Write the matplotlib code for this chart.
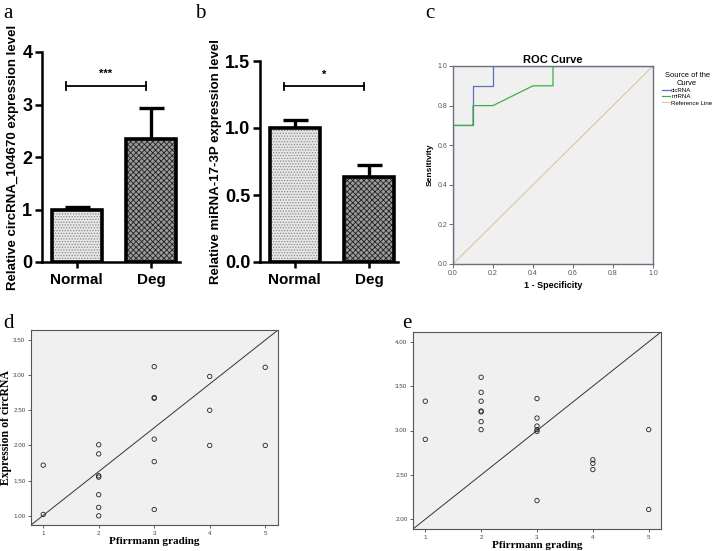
import matplotlib
matplotlib.use("Agg")
import matplotlib.pyplot as plt

W, H = 714, 551

# panel a / b data
groups = ["Normal", "Deg"]
circ_mean = [1.0, 2.34]
circ_err = [0.05, 0.59]
mir_mean = [1.0, 0.635]
mir_err = [0.06, 0.09]

# panel c data (ROC steps)
circ_fpr = [0.0, 0.0, 0.1, 0.1, 0.2, 0.2, 1.0]
circ_tpr = [0.0, 0.7, 0.7, 0.9, 0.9, 1.0, 1.0]
mir_fpr = [0.0, 0.0, 0.1, 0.1, 0.2, 0.4, 0.5, 0.5, 1.0]
mir_tpr = [0.0, 0.7, 0.7, 0.8, 0.8, 0.9, 0.9, 1.0, 1.0]

# panel d data
d_grade = [1, 1, 2, 2, 2, 2, 2, 2, 2, 3, 3, 3, 3, 3, 3, 4, 4, 4, 5, 5]
d_expr = [1.72, 1.02, 2.01, 1.88, 1.57, 1.55, 1.30, 1.12, 1.00,
          3.12, 2.68, 2.67, 2.09, 1.77, 1.09, 2.98, 2.50, 2.00, 3.11, 2.00]

# panel e data
e_grade = [1, 1, 2, 2, 2, 2, 2, 2, 2, 3, 3, 3, 3, 3, 3, 4, 4, 4, 5, 5]
e_expr = [3.33, 2.90, 3.60, 3.43, 3.33, 3.22, 3.21, 3.10, 3.01,
          3.36, 3.14, 3.05, 3.01, 2.99, 2.21, 2.67, 2.63, 2.56, 3.01, 2.11]


def box(l, t, r, b):
    return [l / W, (H - b) / H, (r - l) / W, (b - t) / H]


fig = plt.figure(figsize=(W / 100, H / 100), dpi=100)
plt.rcParams["hatch.linewidth"] = 0.6

sans = "Liberation Sans"
serif = "Liberation Serif"


def bar_panel(ax, means, errs, ymax, yticks, yfmt, ylabel, sig_y, stars):
    x = [0, 1]
    ax.bar(x, means, width=0.68, color=["#e6e6e6", "#9a9a9a"], linewidth=0, zorder=1)
    ax.bar(x[0], means[0], width=0.68, color="none", edgecolor="#8a8a8a",
           hatch="......", linewidth=0, zorder=2)
    ax.bar(x[1], means[1], width=0.68, color="none", edgecolor="#222222",
           hatch="xxxxxx", linewidth=0, zorder=2)
    ax.bar(x, means, width=0.68, color="none", edgecolor="black", linewidth=2.6, zorder=3)
    ax.errorbar(x, means, yerr=[[0, 0], errs], fmt="none", ecolor="black",
                elinewidth=2.4, capsize=9, capthick=2.4, zorder=0)
    ax.set_xlim(-0.47, 1.39)
    ax.set_ylim(0, ymax)
    ax.set_yticks(yticks)
    ax.set_yticklabels([yfmt.format(v) for v in yticks], fontsize=13,
                       fontweight="bold", family=sans)
    ax.set_xticks(x)
    ax.set_xticklabels(groups, fontsize=11, fontweight="bold", family=sans)
    for s in ["top", "right"]:
        ax.spines[s].set_visible(False)
    for s in ["left", "bottom"]:
        ax.spines[s].set_linewidth(1.8)
    ax.tick_params(axis="y", width=1.8, length=5, pad=2)
    ax.tick_params(axis="x", width=1.8, length=4, pad=4)
    ax.set_ylabel(ylabel, fontsize=9.5, fontweight="bold", family=sans, labelpad=2)
    ax.set_facecolor("none")
    # significance bracket
    tick = ymax * 0.018
    ax.plot([-0.15, 0.93], [sig_y, sig_y], color="black", lw=1.3, clip_on=False)
    for xx in [-0.15, 0.93]:
        ax.plot([xx, xx], [sig_y - tick, sig_y + tick], color="black", lw=1.3, clip_on=False)
    ax.text(0.39, sig_y + ymax * 0.06, stars, ha="center", va="center",
            fontsize=8, fontweight="bold", family=sans)


ax_a = fig.add_axes(box(42, 52, 180, 262))
bar_panel(ax_a, circ_mean, circ_err, 4, [0, 1, 2, 3, 4], "{:.0f}",
          "Relative circRNA_104670 expression level", 3.35, "***")

ax_b = fig.add_axes(box(260, 61, 398, 262))
bar_panel(ax_b, mir_mean, mir_err, 1.5, [0.0, 0.5, 1.0, 1.5], "{:.1f}",
          "Relative miRNA-17-3P expression level", 1.31, "*")

# panel c
ax_c = fig.add_axes(box(453, 66, 653, 264))
ax_c.set_facecolor("#f0f0f0")
ax_c.plot([0, 1], [0, 1], color="#d8c9a0", lw=0.8, label="Reference Line", zorder=1)
ax_c.plot(circ_fpr, circ_tpr, color="#5a6fbf", lw=0.9, label="cicRNA", zorder=2.0)
ax_c.plot(mir_fpr, mir_tpr, color="#3cb043", lw=0.9, label="miRNA", zorder=2.1)
ax_c.set_xlim(0, 1)
ax_c.set_ylim(0, 1)
ticks = [0.0, 0.2, 0.4, 0.6, 0.8, 1.0]
ax_c.set_xticks(ticks)
ax_c.set_yticks(ticks)
ax_c.set_xticklabels(["{:.1f}".format(t) for t in ticks], fontsize=5, family=sans, color="#333333")
ax_c.set_yticklabels(["{:.1f}".format(t) for t in ticks], fontsize=5, family=sans, color="#333333")
ax_c.tick_params(length=3, width=0.6, colors="#555555", pad=1)
for s in ax_c.spines.values():
    s.set_color("#6f6f80")
    s.set_linewidth(1.0)
ax_c.set_title("ROC Curve", fontsize=8, fontweight="bold", family=sans, pad=2)
ax_c.set_xlabel("1 - Specificity", fontsize=6.5, fontweight="bold", family=sans, labelpad=3)
ax_c.set_ylabel("Sensitivity", fontsize=6, fontweight="bold", family=sans, labelpad=3)
h, l = ax_c.get_legend_handles_labels()
order = [1, 2, 0]
leg = ax_c.legend([h[i] for i in order], [l[i] for i in order],
                  title="Source of the\nCurve", loc="upper left",
                  bbox_to_anchor=(1.045, 0.97), frameon=False,
                  prop={"family": sans, "size": 4.4},
                  handlelength=1.3, handletextpad=0.2, labelspacing=0.15,
                  borderaxespad=0, borderpad=0, alignment="center")
leg.get_title().set_fontsize(5.4)
leg.get_title().set_family(sans)
leg.get_title().set_multialignment("center")


def scatter_panel(ax, xs, ys, xlim, ylim, yticks, ylabel=None):
    ax.set_facecolor("#f0f0f0")
    ax.scatter(xs, ys, s=10, facecolors="none", edgecolors="#222222", linewidths=0.6, zorder=3)
    ax.plot([0, 1], [0, 1], transform=ax.transAxes, color="#333333", lw=0.7, zorder=2)
    ax.set_xlim(*xlim)
    ax.set_ylim(*ylim)
    ax.set_xticks([1, 2, 3, 4, 5])
    ax.set_xticklabels(["1", "2", "3", "4", "5"], fontsize=4.5, family=sans, color="#444444")
    ax.set_yticks(yticks)
    ax.set_yticklabels(["{:.2f}".format(t) for t in yticks], fontsize=4.5, family=sans, color="#444444")
    ax.tick_params(length=2.5, width=0.6, pad=1.5, colors="#444444")
    for s in ax.spines.values():
        s.set_color("#555555")
        s.set_linewidth(0.8)
    ax.set_xlabel("Pfirrmann grading", fontsize=8, fontweight="bold", family=serif, labelpad=1)
    if ylabel:
        ax.set_ylabel(ylabel, fontsize=8.5, fontweight="bold", family=serif, labelpad=1)


ax_d = fig.add_axes(box(31, 330, 278, 525))
scatter_panel(ax_d, d_grade, d_expr, (0.78, 5.23), (0.87, 3.64),
              [1.0, 1.5, 2.0, 2.5, 3.0, 3.5], "Expression of circRNA")

ax_e = fig.add_axes(box(413, 332, 661, 529))
scatter_panel(ax_e, e_grade, e_expr, (0.78, 5.22), (1.89, 4.11),
              [2.0, 2.5, 3.0, 3.5, 4.0])

# panel letters
for letter, px, py in [("a", 3, 14), ("b", 195, 14), ("c", 425, 14), ("d", 3, 323), ("e", 402, 323)]:
    fig.text(px / W, 1 - py / H, letter, fontsize=15, family=serif, va="center", ha="left")

fig.savefig("out.png", dpi=100)
